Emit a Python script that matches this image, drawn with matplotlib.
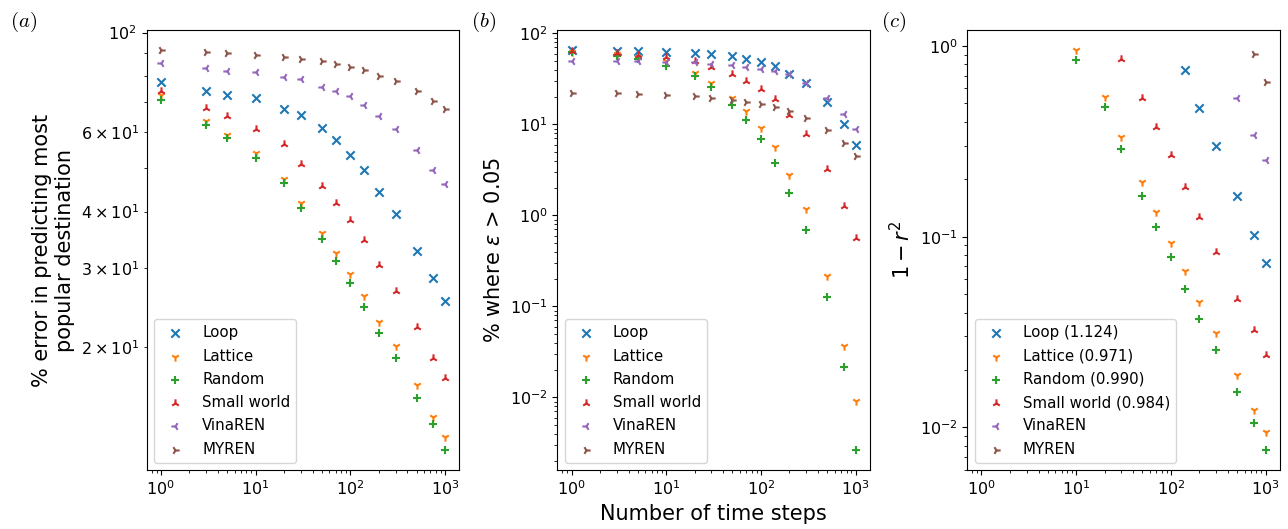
import numpy as np
import matplotlib.pyplot as plt

# time steps shared by panels (a) and (b)
steps = [1, 3, 5, 10, 20, 30, 50, 70, 100, 140, 200, 300, 500, 750, 1000]
names = ["Loop", "Lattice", "Random", "Small world", "VinaREN", "MYREN"]
markers = ["x", "1", "+", "2", "3", "4"]
colors = ["C0", "C1", "C2", "C3", "C4", "C5"]

# (a) % error in predicting most popular destination
err_loop = [77.5, 74.1, 72.7, 71.4, 67.5, 65.5, 61.4, 57.8, 53.5, 49.5, 44.3, 39.6, 32.7, 28.5, 25.3]
err_lattice = [72.6, 63.5, 59.3, 54.0, 47.3, 41.8, 35.8, 32.4, 29.0, 26.0, 22.7, 20.1, 16.5, 14.0, 12.6]
err_random = [70.8, 62.4, 58.4, 52.6, 46.3, 40.7, 34.8, 31.0, 27.7, 24.5, 21.5, 18.9, 15.4, 13.5, 11.8]
err_small = [74.1, 68.0, 65.3, 61.2, 56.4, 51.1, 45.6, 41.8, 38.3, 34.5, 30.4, 26.6, 22.1, 18.9, 17.1]
err_vina = [85.5, 83.5, 82.3, 81.8, 79.8, 78.7, 75.9, 74.2, 72.2, 69.2, 65.4, 61.0, 54.9, 49.4, 46.1]
err_myren = [91.5, 90.4, 90.1, 89.2, 88.4, 87.3, 86.5, 85.1, 84.0, 82.7, 80.2, 78.2, 74.0, 70.4, 67.8]

# (b) % where eps > 0.05
eps_loop = [65.7, 63.4, 63.4, 61.8, 60.3, 59.4, 56.9, 52.3, 48.0, 44.2, 35.8, 28.5, 17.5, 10.1, 5.98]
eps_lattice = [62.0, 59.4, 54.5, 49.2, 36.3, 28.5, 19.5, 13.9, 9.04, 5.69, 2.80, 1.19, 0.2175, 0.037, 0.0092]
eps_random = [61.8, 56.9, 52.3, 44.2, 34.3, 25.5, 16.5, 11.3, 6.91, 3.77, 1.745, 0.691, 0.128, 0.0218, 0.00264]
eps_small = [64.6, 60.9, 57.9, 54.5, 49.2, 43.1, 35.8, 29.7, 24.5, 19.0, 12.8, 7.84, 3.24, 1.26, 0.559]
eps_vina = [50.1, 49.2, 49.2, 48.0, 48.0, 46.1, 44.9, 42.3, 40.6, 38.2, 35.8, 28.5, 19.5, 13.0, 8.9]
eps_myren = [22.1, 22.1, 21.6, 21.0, 20.3, 19.3, 18.7, 17.8, 16.8, 15.4, 13.9, 11.8, 8.75, 6.25, 4.53]

# (c) 1 - r^2, each series starts at a different step
r_steps_loop = [140, 200, 300, 500, 750, 1000]
r_loop = [0.748, 0.474, 0.300, 0.1625, 0.102, 0.073]
r_steps_lattice = [10, 20, 30, 50, 70, 100, 140, 200, 300, 500, 750, 1000]
r_lattice = [0.953, 0.542, 0.332, 0.193, 0.134, 0.0923, 0.0662, 0.0452, 0.0311, 0.0189, 0.01225, 0.00948]
r_steps_random = [10, 20, 30, 50, 70, 100, 140, 200, 300, 500, 750, 1000]
r_random = [0.844, 0.48, 0.288, 0.164, 0.113, 0.078, 0.053, 0.0369, 0.0255, 0.0154, 0.01054, 0.0076]
r_steps_small = [30, 50, 70, 100, 140, 200, 300, 500, 750, 1000]
r_small = [0.851, 0.532, 0.376, 0.269, 0.183, 0.1265, 0.0828, 0.047, 0.0323, 0.024]
r_steps_vina = [500, 750, 1000]
r_vina = [0.535, 0.343, 0.253]
r_steps_myren = [750, 1000]
r_myren = [0.908, 0.65]
slopes = [1.124, 0.971, 0.990, 0.984, None, None]

err_all = [err_loop, err_lattice, err_random, err_small, err_vina, err_myren]
eps_all = [eps_loop, eps_lattice, eps_random, eps_small, eps_vina, eps_myren]
r_x_all = [r_steps_loop, r_steps_lattice, r_steps_random, r_steps_small, r_steps_vina, r_steps_myren]
r_all = [r_loop, r_lattice, r_random, r_small, r_vina, r_myren]

tick_fs = 11.5
label_fs = 15
legend_fs = 10.8

fig = plt.figure(figsize=(12.88, 5.29), dpi=100)
ax1 = fig.add_axes([0.1139, 0.1115, 0.2427, 0.8318])
ax2 = fig.add_axes([0.4327, 0.1115, 0.2427, 0.8318])
ax3 = fig.add_axes([0.7510, 0.1115, 0.2427, 0.8318])

for i in range(6):
    ax1.scatter(steps, err_all[i], marker=markers[i], color=colors[i], label=names[i])
    ax2.scatter(steps, eps_all[i], marker=markers[i], color=colors[i], label=names[i])
    lab = names[i] if slopes[i] is None else "%s (%.3f)" % (names[i], slopes[i])
    ax3.scatter(r_x_all[i], r_all[i], marker=markers[i], color=colors[i], label=lab)

for ax in [ax1, ax2, ax3]:
    ax.set_xscale("log")
    ax.set_yscale("log")
    ax.tick_params(which="major", labelsize=tick_fs)
    ax.tick_params(which="minor", labelsize=tick_fs)
    ax.legend(loc="lower left", fontsize=legend_fs, labelspacing=0.55)

ax3.set_xlim(ax2.get_xlim())

ax1.set_ylabel("% error in predicting most\npopular destination", fontsize=label_fs)
ax2.set_ylabel(r"% where $\epsilon$ > 0.05", fontsize=label_fs)
ax3.set_ylabel(r"$1 - r^2$", fontsize=label_fs)
ax2.set_xlabel("Number of time steps", fontsize=label_fs)

fig.text(0.008, 0.958, r"$(a)$", fontsize=label_fs, math_fontfamily="cm", va="center")
fig.text(0.366, 0.958, r"$(b)$", fontsize=label_fs, math_fontfamily="cm", va="center")
fig.text(0.684, 0.958, r"$(c)$", fontsize=label_fs, math_fontfamily="cm", va="center")

fig.savefig("out.png", dpi=100)
